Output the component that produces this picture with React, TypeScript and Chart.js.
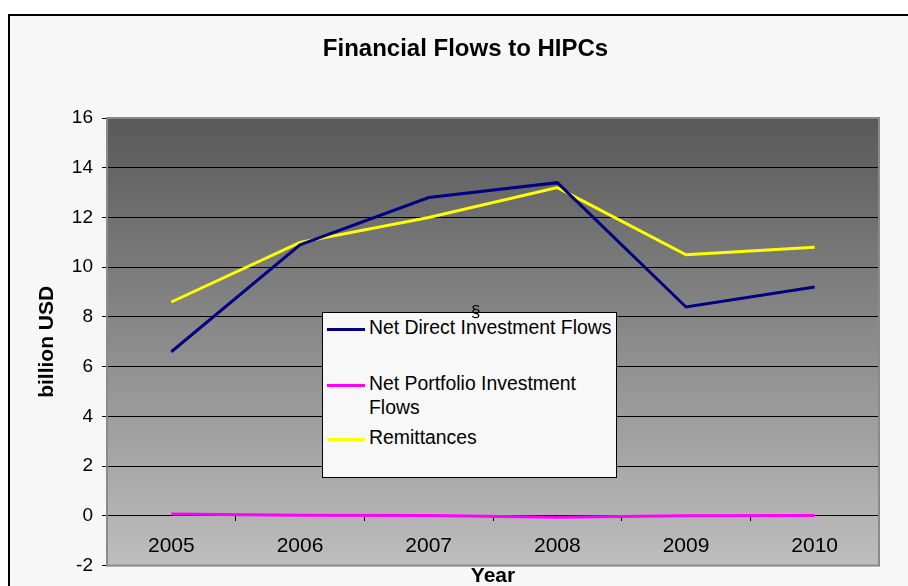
import React, { useEffect, useRef } from "react";
import { Chart, registerables } from "chart.js";

Chart.register(...registerables);

// ---- data ----
const years = ["2005", "2006", "2007", "2008", "2009", "2010"];
const netDirect = [6.6, 10.9, 12.8, 13.4, 8.4, 9.2];
const netPortfolio = [0.08, 0.02, 0.01, -0.06, 0.0, 0.01];
const remittances = [8.6, 11.0, 12.0, 13.2, 10.5, 10.8];
const seriesNames = [
  "Net Direct Investment Flows",
  "Net Portfolio Investment Flows",
  "Remittances",
];
const seriesValues = [netDirect, netPortfolio, remittances];
const seriesColors = ["#000080", "#ff00ff", "#ffff00"];
const yMin = -2;
const yMax = 16;
const yStep = 2;
const chartTitle = "Financial Flows to HIPCs";
const xTitle = "Year";
const yTitle = "billion USD";
const strayMark = "§";

const FONT = "'Liberation Sans', Arial, sans-serif";

const plotAreaPlugin = {
  id: "plotArea",
  beforeDraw(chart: any) {
    const { ctx, chartArea } = chart;
    if (!chartArea) return;
    const g = ctx.createLinearGradient(0, chartArea.top, 0, chartArea.bottom);
    g.addColorStop(0, "#595959");
    g.addColorStop(1, "#bebebe");
    ctx.save();
    ctx.fillStyle = g;
    ctx.fillRect(chartArea.left, chartArea.top, chartArea.right - chartArea.left, chartArea.bottom - chartArea.top);
    ctx.restore();
  },
  afterDraw(chart: any) {
    const { ctx, chartArea } = chart;
    ctx.save();
    ctx.strokeStyle = "#8a8a8a";
    ctx.lineWidth = 2;
    ctx.strokeRect(chartArea.left, chartArea.top, chartArea.right - chartArea.left, chartArea.bottom - chartArea.top);
    ctx.restore();
  },
};

export default function App() {
  const canvasRef = useRef<HTMLCanvasElement | null>(null);

  useEffect(() => {
    const canvas = canvasRef.current;
    if (!canvas) return;
    const chart = new Chart(canvas, {
      type: "line",
      data: {
        labels: years,
        datasets: seriesNames.map((name, i) => ({
          label: name,
          data: seriesValues[i],
          borderColor: seriesColors[i],
          backgroundColor: seriesColors[i],
          borderWidth: 3,
          pointRadius: 0,
          tension: 0,
          fill: false,
        })),
      },
      options: {
        responsive: false,
        animation: false,
        layout: { padding: { left: 52, right: 29, top: 0, bottom: 0 } },
        plugins: {
          legend: { display: false },
          tooltip: { enabled: false },
          title: {
            display: true,
            text: chartTitle,
            color: "#000",
            font: { family: FONT, size: 24, weight: "bold" },
            padding: { top: 35, bottom: 54.2 },
          },
        },
        scales: {
          x: {
            position: { y: 0 } as any,
            offset: true,
            grid: { drawOnChartArea: false, offset: true, tickLength: 5, color: "#000" },
            border: { display: true, color: "#000", width: 1 },
            ticks: {
              color: "#000",
              font: { family: FONT, size: 21 },
              padding: 13,
              maxRotation: 0,
              autoSkip: false,
            },
            title: {
              display: true,
              text: xTitle,
              color: "#000",
              font: { family: FONT, size: 21, weight: "bold" },
              padding: { top: 0, bottom: -52.6 },
            },
            afterFit: (s: any) => {
              s.height = 20;
            },
          },
          y: {
            min: yMin,
            max: yMax,
            ticks: {
              stepSize: yStep,
              color: "#000",
              font: { family: FONT, size: 19 },
              padding: 9,
            },
            grid: { color: "#000", lineWidth: 1, tickLength: 5 },
            border: { display: false },
            title: {
              display: true,
              text: yTitle,
              color: "#000",
              font: { family: FONT, size: 21, weight: "bold" },
              padding: { top: -17.6, bottom: 0 },
            },
            afterFit: (s: any) => {
              s.width = 55;
            },
          },
        },
      },
      plugins: [plotAreaPlugin],
    } as any);
    return () => chart.destroy();
  }, []);

  const legendTops = [315, 371, 425];

  return (
    <div>
      <div
        style={{
          position: "fixed",
          left: 8,
          top: 14,
          width: 1000,
          height: 1000,
          border: "2px solid #000",
          background: "#f7f7f7",
        }}
      />
      <canvas
        ref={canvasRef}
        width={908}
        height={586}
        style={{ position: "fixed", left: 0, top: 0, width: 908, height: 586 }}
      />
      <div
        style={{
          position: "fixed",
          left: 322,
          top: 312,
          width: 293,
          height: 164,
          border: "1px solid #000",
          background: "#f8f8f8",
        }}
      />
      {seriesNames.map((name, i) => (
        <React.Fragment key={name}>
          <div
            style={{
              position: "fixed",
              left: 327,
              top: legendTops[i] + 12.5,
              width: 38,
              height: 3,
              background: seriesColors[i],
            }}
          />
          <div
            style={{
              position: "fixed",
              left: 369,
              top: legendTops[i],
              width: 246,
              fontFamily: FONT,
              fontSize: 19.4,
              lineHeight: "24px",
              color: "#000",
            }}
          >
            {name}
          </div>
        </React.Fragment>
      ))}
      <div
        style={{
          position: "fixed",
          left: 471,
          top: 303,
          fontFamily: FONT,
          fontSize: 17,
          lineHeight: "18px",
          color: "#000",
        }}
      >
        {strayMark}
      </div>
    </div>
  );
}
